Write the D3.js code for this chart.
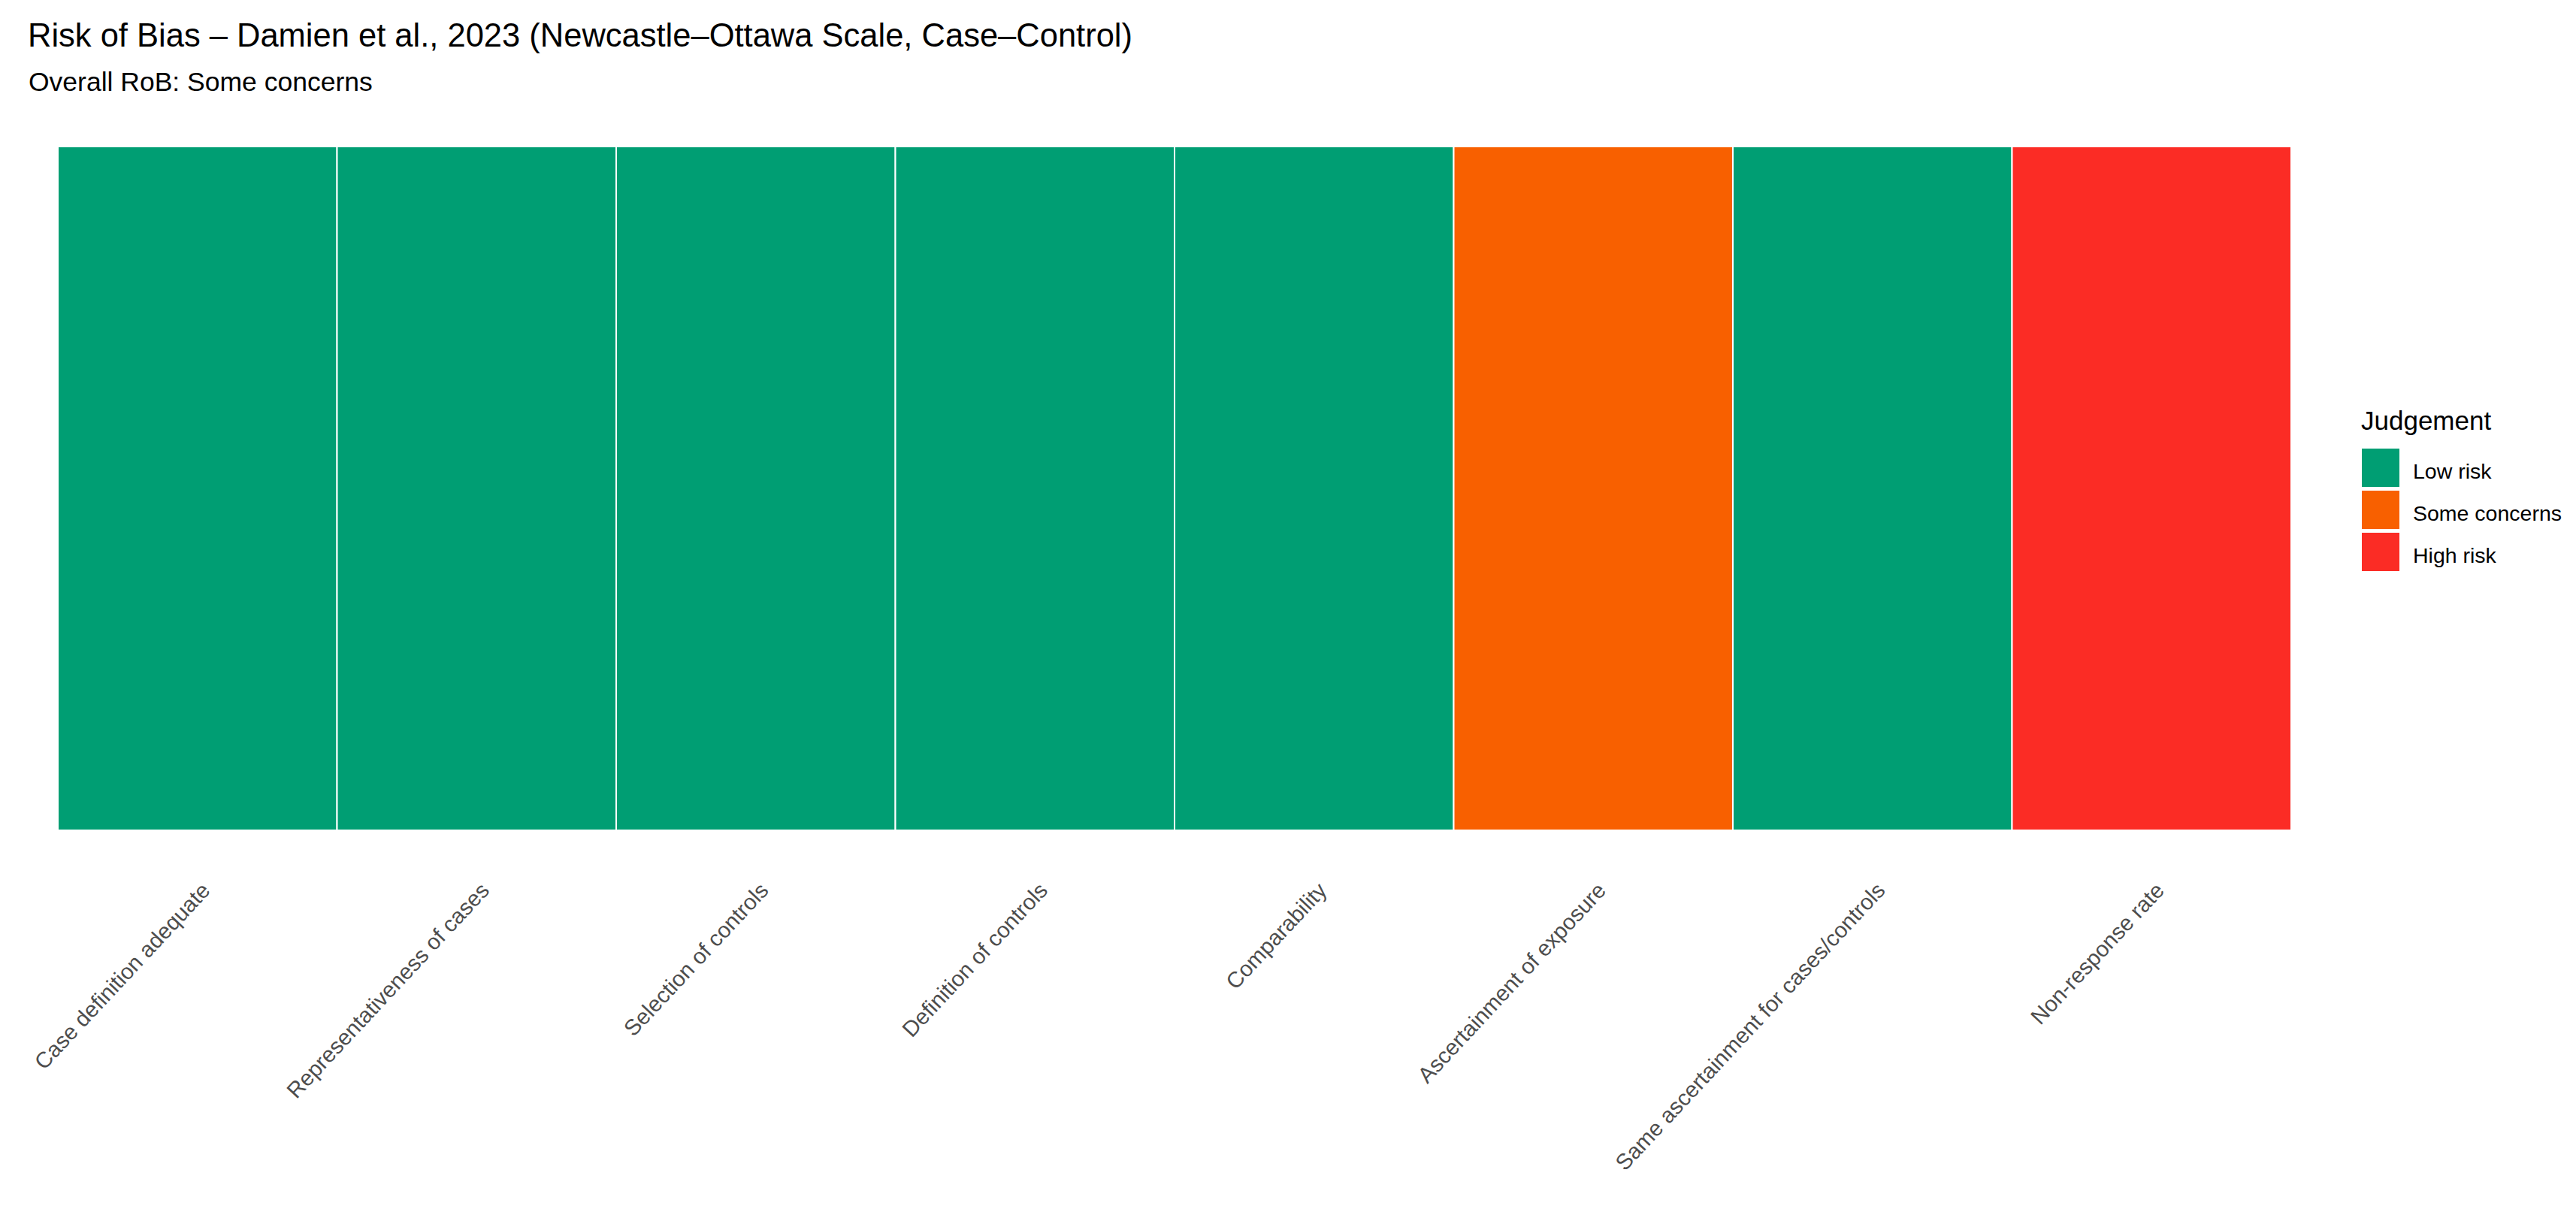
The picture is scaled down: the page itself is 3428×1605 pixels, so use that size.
<!DOCTYPE html>
<html lang="en">
<head>
  <meta charset="UTF-8">
  <title>Risk of Bias – Damien et al., 2023</title>
  <script src="https://d3js.org/d3.v7.min.js"></script>
  <style>
    body {
      margin: 0;
      background: #ffffff;
      font-family: Arial, "Liberation Sans", sans-serif;
    }
    svg { display: block; background: #ffffff; }
    .tick text { fill: #4d4d4d; }
  </style>
</head>
<body>
  <svg id="chart"></svg>

  <script>
    // domains on the x axis, in order
    const domains = [
      "Case definition adequate",
      "Representativeness of cases",
      "Selection of controls",
      "Definition of controls",
      "Comparability",
      "Ascertainment of exposure",
      "Same ascertainment for cases/controls",
      "Non-response rate"
    ];
    // judgement for each domain
    const judgements = [
      "Low risk", "Low risk", "Low risk", "Low risk",
      "Low risk", "Some concerns", "Low risk", "High risk"
    ];
    const levels = ["Low risk", "Some concerns", "High risk"];
    const levelColors = ["#009E73", "#F86000", "#FB2C25"];
    const study = ["Damien et al., 2023"];

    const width = 3428, height = 1605;
    const panel = { left: 77, right: 3049, top: 195, bottom: 1105 };

    const svg = d3.select("#chart")
      .attr("width", width)
      .attr("height", height);

    const x = d3.scaleBand()
      .domain(domains)
      .range([panel.left, panel.right])
      .padding(0);

    const y = d3.scaleBand()
      .domain(study)
      .range([panel.top, panel.bottom])
      .padding(0);

    const color = d3.scaleOrdinal()
      .domain(levels)
      .range(levelColors);

    const data = domains.map((d, i) => ({ domain: d, study: study[0], judgement: judgements[i] }));

    // tiles
    svg.append("g")
      .selectAll("rect")
      .data(data)
      .enter().append("rect")
      .attr("x", d => x(d.domain))
      .attr("y", d => y(d.study))
      .attr("width", x.bandwidth())
      .attr("height", y.bandwidth())
      .attr("fill", d => color(d.judgement))
      .attr("stroke", "#ffffff")
      .attr("stroke-width", 2);

    // x axis labels, rotated
    const xAxis = svg.append("g")
      .attr("transform", `translate(3,1172)`)
      .call(d3.axisBottom(x).tickSize(0).tickPadding(0));

    xAxis.select(".domain").remove();
    xAxis.selectAll(".tick text")
      .attr("font-family", "Arial, 'Liberation Sans', sans-serif")
      .attr("font-size", 29.5)
      .attr("text-anchor", "end")
      .attr("x", 0)
      .attr("y", 0)
      .attr("dy", "0.72em")
      .attr("transform", "rotate(-47)");

    // titles
    svg.append("text")
      .attr("x", 37)
      .attr("y", 62)
      .attr("font-size", 43.5)
      .attr("fill", "#000")
      .text("Risk of Bias – Damien et al., 2023 (Newcastle–Ottawa Scale, Case–Control)");

    svg.append("text")
      .attr("x", 38)
      .attr("y", 121)
      .attr("font-size", 35.5)
      .attr("fill", "#000")
      .text("Overall RoB: Some concerns");

    // legend
    const legend = svg.append("g")
      .attr("transform", "translate(3143,0)");

    legend.append("text")
      .attr("x", -1)
      .attr("y", 572)
      .attr("font-size", 35)
      .attr("fill", "#000")
      .text("Judgement");

    levels.forEach((lvl, i) => {
      const row = legend.append("g")
        .attr("transform", `translate(0,${597 + i * 56})`);

      row.append("rect")
        .attr("width", 50)
        .attr("height", 51)
        .attr("fill", color(lvl));

      row.append("text")
        .attr("x", 68)
        .attr("y", 40)
        .attr("font-size", 28.5)
        .attr("fill", "#000")
        .text(lvl);
    });
  </script>
</body>
</html>
